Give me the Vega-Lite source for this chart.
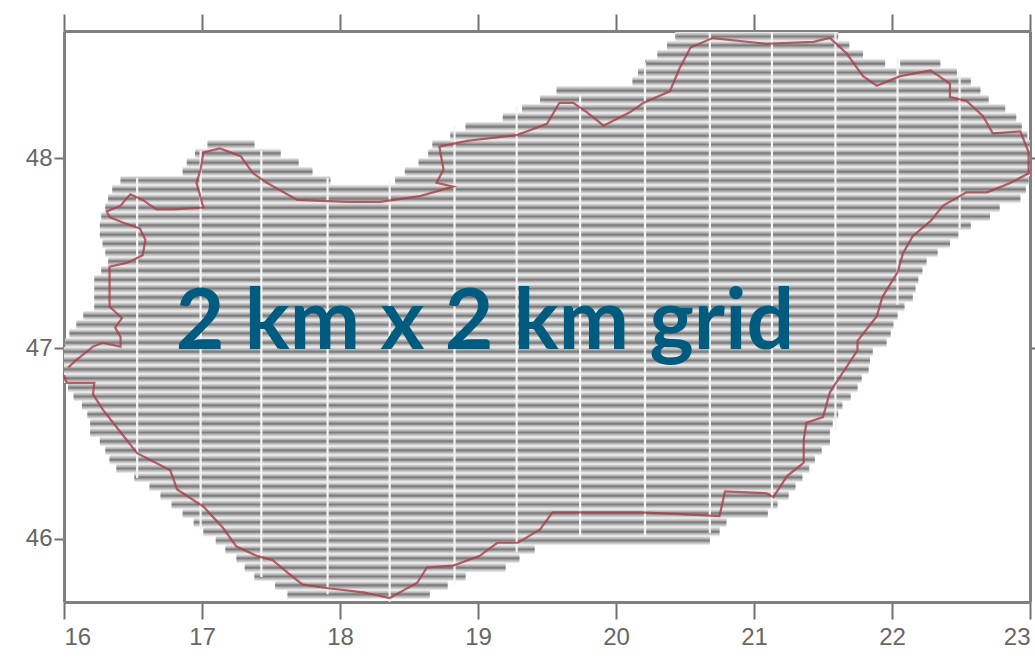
{"$schema":"https://vega.github.io/schema/vega-lite/v6.json","width":966,"height":571,"autosize":"none","padding":{"left":64,"top":31,"right":5,"bottom":56},"background":"white","config":{"view":{"stroke":null},"axis":{"grid":false,"title":null,"labelFont":"Liberation Sans","labelFontSize":24,"labelColor":"#666666","domainColor":"#808080","domainWidth":3,"tickColor":"#707070","tickWidth":2}},
"datasets":{"rows":[
{"lat":48.638,"a":20.43,"b":21.61},{"lat":48.591,"a":20.37,"b":21.69},{"lat":48.543,"a":20.30,"b":21.79},{"lat":48.496,"a":20.21,"b":21.95},{"lat":48.496,"a":22.06,"b":22.35},{"lat":48.449,"a":20.16,"b":22.47},{"lat":48.402,"a":20.12,"b":22.57},{"lat":48.354,"a":19.57,"b":22.64},{"lat":48.307,"a":19.45,"b":22.70},{"lat":48.26,"a":19.32,"b":22.82},{"lat":48.213,"a":19.18,"b":22.90},{"lat":48.165,"a":18.91,"b":22.94},{"lat":48.118,"a":18.80,"b":22.98},{"lat":48.071,"a":17.04,"b":17.38},{"lat":48.071,"a":18.67,"b":23.0},{"lat":48.024,"a":16.95,"b":17.57},{"lat":48.024,"a":18.64,"b":23.0},{"lat":47.976,"a":16.89,"b":17.70},{"lat":47.976,"a":18.57,"b":23.0},{"lat":47.929,"a":16.86,"b":17.80},{"lat":47.929,"a":18.47,"b":23.0},{"lat":47.882,"a":16.41,"b":17.93},{"lat":47.882,"a":18.40,"b":22.99},{"lat":47.835,"a":16.35,"b":22.97},{"lat":47.787,"a":16.32,"b":22.93},{"lat":47.74,"a":16.30,"b":22.78},{"lat":47.693,"a":16.27,"b":22.71},{"lat":47.646,"a":16.26,"b":22.57},{"lat":47.598,"a":16.26,"b":22.48},{"lat":47.551,"a":16.28,"b":22.42},{"lat":47.504,"a":16.30,"b":22.33},{"lat":47.457,"a":16.32,"b":22.25},{"lat":47.409,"a":16.27,"b":22.22},{"lat":47.362,"a":16.22,"b":22.19},{"lat":47.315,"a":16.22,"b":22.17},{"lat":47.268,"a":16.22,"b":22.15},{"lat":47.22,"a":16.22,"b":22.09},{"lat":47.173,"a":16.14,"b":22.04},{"lat":47.126,"a":16.09,"b":22.01},{"lat":47.079,"a":16.04,"b":21.99},{"lat":47.031,"a":16.01,"b":21.96},{"lat":46.984,"a":16.0,"b":21.86},{"lat":46.937,"a":16.0,"b":21.84},{"lat":46.89,"a":16.0,"b":21.83},{"lat":46.843,"a":16.0,"b":21.78},{"lat":46.795,"a":16.03,"b":21.75},{"lat":46.748,"a":16.07,"b":21.70},{"lat":46.701,"a":16.13,"b":21.64},{"lat":46.654,"a":16.17,"b":21.61},{"lat":46.606,"a":16.19,"b":21.57},{"lat":46.559,"a":16.19,"b":21.55},{"lat":46.512,"a":16.26,"b":21.55},{"lat":46.465,"a":16.30,"b":21.49},{"lat":46.417,"a":16.33,"b":21.44},{"lat":46.37,"a":16.38,"b":21.40},{"lat":46.323,"a":16.51,"b":21.35},{"lat":46.276,"a":16.62,"b":21.30},{"lat":46.228,"a":16.70,"b":21.25},{"lat":46.181,"a":16.78,"b":21.17},{"lat":46.134,"a":16.86,"b":21.10},{"lat":46.087,"a":16.94,"b":20.80},{"lat":46.039,"a":17.01,"b":20.75},{"lat":45.992,"a":17.10,"b":20.68},{"lat":45.945,"a":17.17,"b":19.41},{"lat":45.898,"a":17.25,"b":19.30},{"lat":45.85,"a":17.31,"b":19.20},{"lat":45.803,"a":17.38,"b":18.91},{"lat":45.756,"a":17.53,"b":18.78},{"lat":45.709,"a":17.62,"b":18.65}],
"cols":[{"lon":16.53,"t":47.895,"u":46.32},{"lon":16.99,"t":48.04,"u":46.05},{"lon":17.43,"t":48.04,"u":45.80},{"lon":17.91,"t":47.895,"u":45.71},{"lon":18.36,"t":47.88,"u":45.67},{"lon":18.83,"t":48.17,"u":45.76},{"lon":19.28,"t":48.27,"u":45.93},{"lon":19.74,"t":48.33,"u":46.02},{"lon":20.21,"t":48.50,"u":46.02},{"lon":20.68,"t":48.66,"u":46.03},{"lon":21.13,"t":48.66,"u":46.15},{"lon":21.59,"t":48.66,"u":46.57},{"lon":22.04,"t":48.53,"u":47.23},{"lon":22.49,"t":48.45,"u":47.63}],
"border":[{"i":1,"lon":16.00,"lat":46.86},{"i":2,"lon":16.02,"lat":46.82},{"i":3,"lon":16.22,"lat":46.82},{"i":4,"lon":16.21,"lat":46.76},{"i":5,"lon":16.28,"lat":46.68},{"i":6,"lon":16.41,"lat":46.56},{"i":7,"lon":16.53,"lat":46.45},{"i":8,"lon":16.77,"lat":46.36},{"i":9,"lon":16.82,"lat":46.26},{"i":10,"lon":17.01,"lat":46.17},{"i":11,"lon":17.15,"lat":46.06},{"i":12,"lon":17.25,"lat":45.96},{"i":13,"lon":17.40,"lat":45.91},{"i":14,"lon":17.51,"lat":45.89},{"i":15,"lon":17.66,"lat":45.80},{"i":16,"lon":17.73,"lat":45.76},{"i":17,"lon":17.93,"lat":45.74},{"i":18,"lon":18.17,"lat":45.72},{"i":19,"lon":18.36,"lat":45.69},{"i":20,"lon":18.46,"lat":45.73},{"i":21,"lon":18.56,"lat":45.77},{"i":22,"lon":18.63,"lat":45.85},{"i":23,"lon":18.82,"lat":45.86},{"i":24,"lon":19.01,"lat":45.91},{"i":25,"lon":19.14,"lat":45.98},{"i":26,"lon":19.29,"lat":45.98},{"i":27,"lon":19.45,"lat":46.05},{"i":28,"lon":19.54,"lat":46.14},{"i":29,"lon":19.74,"lat":46.14},{"i":30,"lon":20.17,"lat":46.14},{"i":31,"lon":20.46,"lat":46.13},{"i":32,"lon":20.75,"lat":46.12},{"i":33,"lon":20.79,"lat":46.25},{"i":34,"lon":21.09,"lat":46.24},{"i":35,"lon":21.14,"lat":46.22},{"i":36,"lon":21.24,"lat":46.33},{"i":37,"lon":21.36,"lat":46.40},{"i":38,"lon":21.36,"lat":46.52},{"i":39,"lon":21.38,"lat":46.61},{"i":40,"lon":21.50,"lat":46.64},{"i":41,"lon":21.55,"lat":46.77},{"i":42,"lon":21.64,"lat":46.87},{"i":43,"lon":21.75,"lat":46.99},{"i":44,"lon":21.75,"lat":47.04},{"i":45,"lon":21.89,"lat":47.17},{"i":46,"lon":21.93,"lat":47.27},{"i":47,"lon":22.04,"lat":47.40},{"i":48,"lon":22.08,"lat":47.50},{"i":49,"lon":22.15,"lat":47.59},{"i":50,"lon":22.28,"lat":47.67},{"i":51,"lon":22.37,"lat":47.75},{"i":52,"lon":22.54,"lat":47.82},{"i":53,"lon":22.69,"lat":47.82},{"i":54,"lon":22.86,"lat":47.87},{"i":55,"lon":22.99,"lat":47.92},{"i":56,"lon":22.99,"lat":48.03},{"i":57,"lon":22.93,"lat":48.14},{"i":58,"lon":22.73,"lat":48.13},{"i":59,"lon":22.66,"lat":48.22},{"i":60,"lon":22.54,"lat":48.30},{"i":61,"lon":22.42,"lat":48.32},{"i":62,"lon":22.42,"lat":48.39},{"i":63,"lon":22.28,"lat":48.46},{"i":64,"lon":22.06,"lat":48.43},{"i":65,"lon":21.89,"lat":48.38},{"i":66,"lon":21.79,"lat":48.43},{"i":67,"lon":21.67,"lat":48.55},{"i":68,"lon":21.55,"lat":48.63},{"i":69,"lon":21.43,"lat":48.61},{"i":70,"lon":21.09,"lat":48.60},{"i":71,"lon":20.70,"lat":48.63},{"i":72,"lon":20.54,"lat":48.58},{"i":73,"lon":20.46,"lat":48.47},{"i":74,"lon":20.39,"lat":48.35},{"i":75,"lon":20.20,"lat":48.29},{"i":76,"lon":20.10,"lat":48.24},{"i":77,"lon":19.91,"lat":48.17},{"i":78,"lon":19.79,"lat":48.24},{"i":79,"lon":19.69,"lat":48.29},{"i":80,"lon":19.59,"lat":48.29},{"i":81,"lon":19.50,"lat":48.18},{"i":82,"lon":19.28,"lat":48.12},{"i":83,"lon":18.92,"lat":48.09},{"i":84,"lon":18.72,"lat":48.06},{"i":85,"lon":18.75,"lat":47.94},{"i":86,"lon":18.70,"lat":47.87},{"i":87,"lon":18.82,"lat":47.85},{"i":88,"lon":18.58,"lat":47.80},{"i":89,"lon":18.29,"lat":47.77},{"i":90,"lon":18.05,"lat":47.77},{"i":91,"lon":17.69,"lat":47.78},{"i":92,"lon":17.47,"lat":47.87},{"i":93,"lon":17.37,"lat":47.92},{"i":94,"lon":17.28,"lat":48.01},{"i":95,"lon":17.13,"lat":48.05},{"i":96,"lon":17.01,"lat":48.03},{"i":97,"lon":16.99,"lat":47.94},{"i":98,"lon":16.96,"lat":47.87},{"i":99,"lon":17.01,"lat":47.74},{"i":100,"lon":16.79,"lat":47.73},{"i":101,"lon":16.67,"lat":47.73},{"i":102,"lon":16.57,"lat":47.78},{"i":103,"lon":16.48,"lat":47.81},{"i":104,"lon":16.41,"lat":47.75},{"i":105,"lon":16.31,"lat":47.72},{"i":106,"lon":16.33,"lat":47.69},{"i":107,"lon":16.43,"lat":47.66},{"i":108,"lon":16.55,"lat":47.63},{"i":109,"lon":16.59,"lat":47.57},{"i":110,"lon":16.57,"lat":47.49},{"i":111,"lon":16.46,"lat":47.45},{"i":112,"lon":16.33,"lat":47.43},{"i":113,"lon":16.33,"lat":47.31},{"i":114,"lon":16.33,"lat":47.22},{"i":115,"lon":16.42,"lat":47.16},{"i":116,"lon":16.37,"lat":47.11},{"i":117,"lon":16.41,"lat":47.06},{"i":118,"lon":16.41,"lat":47.01},{"i":119,"lon":16.28,"lat":47.03},{"i":120,"lon":16.21,"lat":47.01},{"i":121,"lon":16.09,"lat":46.94},{"i":122,"lon":16.03,"lat":46.90}],
"label":[{"lon":19.05,"lat":47.13,"text":"2 km x 2 km grid"}]},
"resolve":{"axis":{"x":"independent","y":"independent"}},
"layer":[
{"data":{"name":"rows"},"mark":{"type":"rule","strokeWidth":9.2,"color":"#e6e6e6"},"encoding":{
"x":{"field":"a","type":"quantitative","scale":{"domain":[16,23],"nice":false,"zero":false},"axis":{"orient":"bottom","values":[16,17,18,19,20,21,22,23],"tickSize":17,"labelPadding":6,"format":"d","labelOverlap":false}},
"x2":{"field":"b"},
"y":{"field":"lat","type":"quantitative","scale":{"domain":[45.669,48.667],"nice":false,"zero":false},"axis":{"orient":"left","values":[46,47,48],"tickSize":10,"labelPadding":2,"format":"d"}}}},
{"data":{"name":"rows"},"mark":{"type":"rule","strokeWidth":6,"color":"#b4b4b4"},"encoding":{"x":{"field":"a","type":"quantitative","axis":{"orient":"top","values":[16,17,18,19,20,21,22,23],"tickSize":17,"labels":false}},"x2":{"field":"b"},"y":{"field":"lat","type":"quantitative","axis":{"orient":"right","values":[47,48],"tickSize":5,"labels":false}}}},
{"data":{"name":"rows"},"mark":{"type":"rule","strokeWidth":2.2,"color":"#7e7e7e"},"encoding":{"x":{"field":"a","type":"quantitative","axis":null},"x2":{"field":"b"},"y":{"field":"lat","type":"quantitative","axis":null}}},
{"data":{"name":"cols"},"mark":{"type":"rule","strokeWidth":2.2,"color":"#f4f4f4"},"encoding":{"x":{"field":"lon","type":"quantitative","axis":null},"y":{"field":"t","type":"quantitative","axis":null},"y2":{"field":"u"}}},
{"data":{"name":"border"},"mark":{"type":"line","strokeWidth":2.2,"color":"#a83c48","opacity":0.8,"interpolate":"linear"},"encoding":{"x":{"field":"lon","type":"quantitative","axis":null},"y":{"field":"lat","type":"quantitative","axis":null},"order":{"field":"i","type":"quantitative"}}},
{"data":{"name":"label"},"mark":{"type":"text","font":"Lato","fontWeight":"bold","fontSize":84,"color":"#005b7f","align":"center","baseline":"middle"},"encoding":{"x":{"field":"lon","type":"quantitative","axis":null},"y":{"field":"lat","type":"quantitative","axis":null},"text":{"field":"text"}}}
]}
